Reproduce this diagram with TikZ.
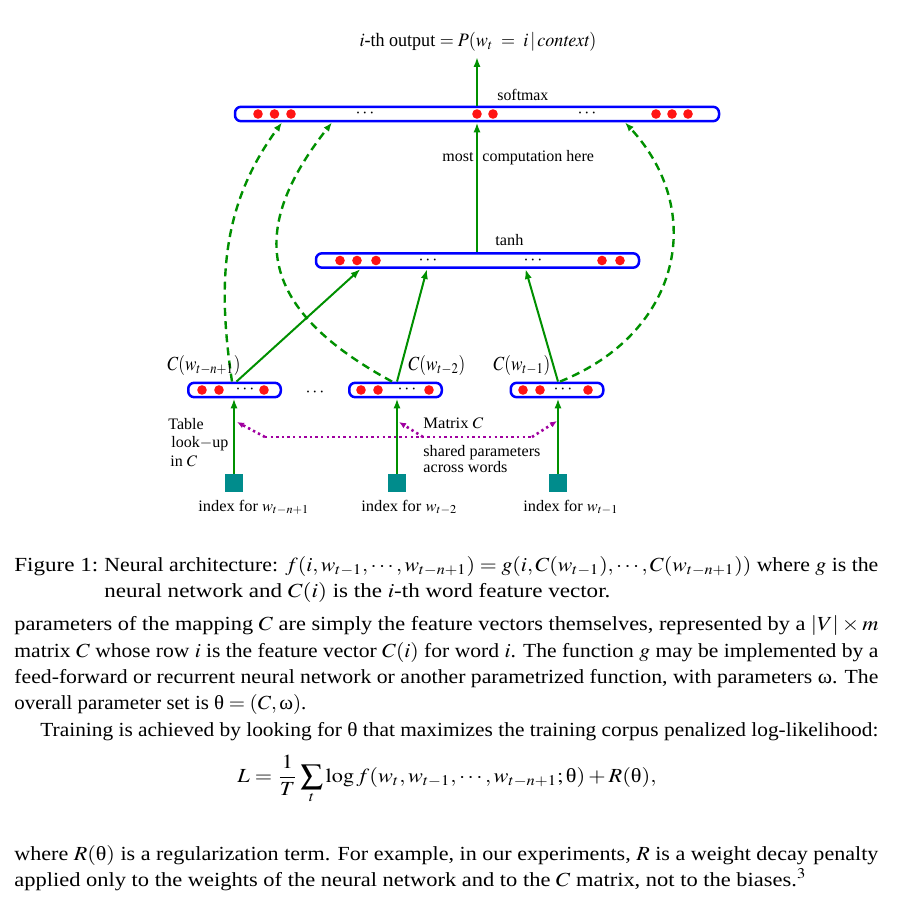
\documentclass[tikz,border=0pt]{standalone}
\usepackage{mathptmx}
\usepackage{fontspec}
\setmainfont{Liberation Serif}
\usepackage{graphicx}
\usetikzlibrary{arrows.meta}
\definecolor{fgreen}{RGB}{0,144,0}
\definecolor{fblue}{RGB}{0,0,255}
\definecolor{fred}{RGB}{255,20,20}
\definecolor{fteal}{RGB}{0,140,140}
\definecolor{fpurple}{RGB}{160,0,160}
\newcommand\fitto[2]{\resizebox{#1}{\height}{#2}}
\newcommand\figfont{\fontsize{8}{9.5}\selectfont}
\newcommand\clabfont{\fontsize{10}{12}\selectfont}
\newcommand\uth{\mathord{\mbox{θ}}}
\newcommand\uom{\mathord{\mbox{ω}}}
\begin{document}
\begin{tikzpicture}[x=0.5pt,y=-0.5pt,
  layer/.style={draw=fblue, line width=1.25pt, rounded corners=3pt, minimum height=7.2pt, inner sep=0pt},
  unitdot/.style={fill=fred, draw=none},
  dotsnode/.style={inner sep=0pt, font=\fontsize{9}{10}\selectfont},
  sq/.style={fill=fteal, draw=none, minimum size=9pt, inner sep=0pt},
  garrow/.style={draw=fgreen, line width=1pt, -{Latex[length=5pt,width=3.6pt]}},
  gdash/.style={draw=fgreen, line width=1.2pt, dash pattern=on 4pt off 2.6pt, -{Latex[length=4.5pt,width=3.4pt]}},
  pdot/.style={draw=fpurple, line width=1.3pt, dash pattern=on 1.2pt off 1.6pt},
  parrow/.style={pdot, -{Latex[length=3.5pt,width=3pt]}},
  lab/.style={inner sep=0pt, anchor=base west, font=\figfont},
  clab/.style={inner sep=0pt, anchor=base west, font=\clabfont},
  txt/.style={inner sep=0pt, anchor=base west, font=\fontsize{10}{12}\selectfont}
]
\useasboundingbox (0,0) rectangle (909,899);
\fill[white] (0,0) rectangle (909,899);

% ---- layers
\node[layer, minimum width=242pt] (top) at (477,114) {};
\node[layer, minimum width=161.5pt] (mid) at (477.5,260.5) {};
\node[layer, minimum width=46.25pt] (b1) at (234.5,390) {};
\node[layer, minimum width=46.25pt] (b2) at (395.5,390) {};
\node[layer, minimum width=46.25pt] (b3) at (557,390) {};

% ---- units
\foreach \x in {258,274.5,291,477,493,656,672,688} \fill[unitdot] (\x,114) circle (2.4pt);
\foreach \x in {340,357,376,602,620} \fill[unitdot] (\x,260.5) circle (2.4pt);
\foreach \x in {202,219,264, 361,378,429, 523,540,588} \fill[unitdot] (\x,390) circle (2.4pt);
\node[dotsnode] (td1) at (365,114) {$\cdots$};
\node[dotsnode] (td2) at (587,114) {$\cdots$};
\node[dotsnode] (md1) at (428,260.5) {$\cdots$};
\node[dotsnode] (md2) at (533,260.5) {$\cdots$};
\node[dotsnode] (bd1) at (245,390) {$\cdots$};
\node[dotsnode] (bd2) at (407,390) {$\cdots$};
\node[dotsnode] (bd3) at (563,390) {$\cdots$};
\node[dotsnode] (gap) at (315,393) {$\cdots$};

% ---- index squares
\node[sq] (s1) at (234,483) {};
\node[sq] (s2) at (397,483) {};
\node[sq] (s3) at (558,483) {};

% ---- solid arrows
\draw[garrow] (s1.north) -- (s1.north |- b1.south);
\draw[garrow] (s2.north) -- (s2.north |- b2.south);
\draw[garrow] (s3.north) -- (s3.north |- b3.south);
\draw[garrow] ([xshift=1pt]b1.north) -- ([xshift=-58.5pt]mid.south);
\draw[garrow] ([xshift=0.75pt]b2.north) -- ([xshift=-25.25pt]mid.south);
\draw[garrow] ([xshift=0.5pt]b3.north) -- ([xshift=24pt]mid.south);
\draw[garrow] ([xshift=-0.25pt]mid.north) -- (top.south);
\coordinate (outtip) at (477,57);
\draw[garrow] (top.north) -- (outtip);

% ---- dashed curved arrows
\draw[gdash] ([xshift=-1.25pt]b1.north) .. controls (217,281) and (222,204) .. ([xshift=-97.5pt]top.south);
\draw[gdash] ([xshift=-1.75pt]b2.north) .. controls (260,310) and (245,233) .. ([xshift=-72.5pt]top.south);
\draw[gdash] ([xshift=1.5pt]b3.north) .. controls (681,333) and (707,211) .. ([xshift=74pt]top.south);

% ---- shared matrix (purple dotted)
\coordinate (pl) at (265,437);
\coordinate (pm) at (423,437);
\coordinate (pr) at (532,437);
\coordinate (plt) at (237,422);
\coordinate (pmt) at (399,422);
\coordinate (prt) at (557,421);
\draw[pdot] (pl) -- (pr);
\draw[parrow] (pl) -- (plt);
\draw[parrow] (pm) -- (pmt);
\draw[parrow] (pr) -- (prt);

% ---- figure labels
\node[inner sep=0pt, anchor=base, font=\fontsize{9.5}{11}\selectfont] (outlab) at (478,47) {\fitto{118.5pt}{$i$-th output $=P(w_t\;=\;i\,|\,\mathit{context})$}};
\node[lab] (softmax) at (497,101) {\fitto{25.5pt}{softmax}};
\node[lab] (tanh) at (495,245) {\fitto{14pt}{tanh}};
\node[lab, anchor=base east] (most) at (474,161) {most};
\node[lab] (comp) at (482,161) {computation here};
\node[clab] (c1) at (167,370) {\fitto{36.5pt}{$C(w_{t-n+1})$}};
\node[clab] (c2) at (408,370) {\fitto{28.5pt}{$C(w_{t-2})$}};
\node[clab] (c3) at (493,370) {\fitto{28.5pt}{$C(w_{t-1})$}};
\node[lab] (tab1) at (168,429) {Table};
\node[lab] (tab2) at (171,447) {look$-$up};
\node[lab] (tab3) at (170,466) {in $C$};
\node[lab] (matc) at (423,428) {\fitto{30pt}{Matrix $C$}};
\node[lab] (sh1) at (423,456) {\fitto{58.5pt}{shared parameters}};
\node[lab] (sh2) at (423,472) {\fitto{42pt}{across words}};
\node[lab] (i1) at (198,511) {\fitto{55.5pt}{index for $w_{t-n+1}$}};
\node[lab] (i2) at (361,511) {\fitto{48pt}{index for $w_{t-2}$}};
\node[lab] (i3) at (523,511) {\fitto{47.5pt}{index for $w_{t-1}$}};

% ---- caption
\node[txt] (fig) at (14,571) {\fitto{42pt}{Figure 1:}};
\node[txt] (cap1) at (104,571) {\fitto{387pt}{Neural architecture: $f(i,w_{t-1},\cdots,w_{t-n+1})=g(i,C(w_{t-1}),\cdots,C(w_{t-n+1}))$ where $g$ is the}};
\node[txt] (cap2) at (104,597) {\fitto{253pt}{neural network and $C(i)$ is the $i$-th word feature vector.}};

% ---- body text
\node[txt] (l1) at (14,630) {\fitto{432pt}{parameters of the mapping $C$ are simply the feature vectors themselves, represented by a $|V|\times m$}};
\node[txt] (l2) at (14,657) {\fitto{432pt}{matrix $C$ whose row $i$ is the feature vector $C(i)$ for word $i$. The function $g$ may be implemented by a}};
\node[txt] (l3) at (14,683) {\fitto{432pt}{feed-forward or recurrent neural network or another parametrized function, with parameters $\uom$. The}};
\node[txt] (l4) at (14,709) {\fitto{146pt}{overall parameter set is $\uth=(C,\uom)$.}};
\node[txt] (l5) at (40,736) {\fitto{419pt}{Training is achieved by looking for $\uth$ that maximizes the training corpus penalized log-likelihood:}};
\node[inner sep=0pt, anchor=base, font=\fontsize{10}{12}\selectfont] (eq) at (447,782) {\fitto{209.5pt}{$\displaystyle L=\frac{1}{T}\sum_t\log f(w_t,w_{t-1},\cdots,w_{t-n+1};\uth)+R(\uth),$}};
\node[txt] (l6) at (14,860) {\fitto{432pt}{where $R(\uth)$ is a regularization term. For example, in our experiments, $R$ is a weight decay penalty}};
\node[txt] (l7) at (14,886) {\fitto{396pt}{applied only to the weights of the neural network and to the $C$ matrix, not to the biases.$^3$}};
\end{tikzpicture}
\end{document}
